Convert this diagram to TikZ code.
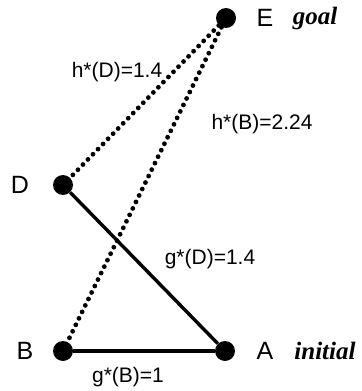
\documentclass[tikz,border=0pt]{standalone}
\usepackage{fontspec}
\setmainfont{Liberation Serif}
\setsansfont{Liberation Sans}
\begin{document}
\begin{tikzpicture}[x=0.5pt,y=-0.5pt,every node/.style={font=\sffamily},
  state/.style={circle,fill=black,inner sep=0pt,minimum size=10pt},
  stname/.style={font=\sffamily\fontsize{12.5}{14}\selectfont},
  role/.style={font=\rmfamily\bfseries\itshape\fontsize{12.5}{15}\selectfont},
  cost/.style={font=\sffamily\fontsize{10.5}{12}\selectfont},
  solid edge/.style={draw=black,line width=1.7pt},
  est edge/.style={draw=black,line width=2.4pt,line cap=round,dash pattern=on 0pt off 3.6pt}]
\useasboundingbox (0,0) rectangle (362,391);
% states
\node[state] (E) at (226,18){};
\node[state] (D) at (63,185){};
\node[state] (B) at (63,351){};
\node[state] (A) at (225,351){};
% state names
\node[stname] (Elbl) at (265,18){E};\node[role] (goal) at (315,18){goal};
\node[stname] (Dlbl) at (20,185){D};
\node[stname] (Blbl) at (25,351){B};
\node[stname] (Albl) at (265,351){A};\node[role] (init) at (325,351){initial};
% edges
\draw[est edge] (E) -- (D);\draw[est edge] (E) -- (B);
\draw[solid edge] (D) -- (A);\draw[solid edge] (B) -- (A);
% costs
\node[cost] (hD) at (117,72){h*(D)=1.4};
\node[cost] (hB) at (262,124){h*(B)=2.24};
\node[cost] (gD) at (210,259){g*(D)=1.4};
\node[cost] (gB) at (128,377){g*(B)=1};
\end{tikzpicture}
\end{document}
